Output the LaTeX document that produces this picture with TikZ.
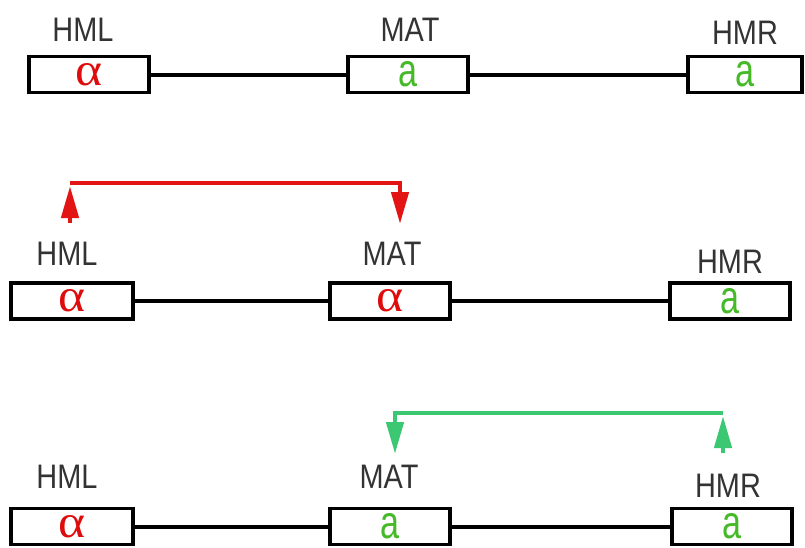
\documentclass[tikz,border=0pt]{standalone}
\usepackage{fontspec}
\setmainfont[FakeStretch=0.85]{Liberation Sans}
\newfontfamily\grkfont{Liberation Serif}
\usetikzlibrary{arrows.meta}
\definecolor{alred}{RGB}{222,12,12}
\definecolor{agreen}{RGB}{70,185,40}
\definecolor{arrred}{RGB}{226,20,20}
\definecolor{arrgreen}{RGB}{60,200,115}
\tikzset{
  genebox/.style={draw=black, line width=3.5pt, fill=white, minimum width=120pt, minimum height=36pt, inner sep=0pt},
  genelbl/.style={font=\fontsize{34}{36}\selectfont, text=black!80, inner sep=0pt},
  link/.style={line width=4pt, black},
  redpath/.style={line width=4.5pt, arrred},
  greenpath/.style={line width=4.5pt, arrgreen},
  headtip/.style={-{Triangle[width=17pt,length=32pt]}}
}
\newcommand{\alsym}{\textcolor{alred}{\resizebox{27pt}{22pt}{\grkfont α}}}
\newcommand{\asym}{\textcolor{agreen}{\resizebox{19pt}{25pt}{a}}}
\begin{document}
\begin{tikzpicture}[x=1pt,y=-1pt]
\useasboundingbox[fill=white] (0,0) rectangle (805,547);
% Row 1
\node[genelbl] (lhml1) at (83,30) {HML};
\node[genelbl] (lmat1) at (410,30) {MAT};
\node[genelbl] (lhmr1) at (745,33) {HMR};
\node[genebox] (hml1) at (89,74.5) {\alsym};
\node[genebox] (mat1) at (408,74.5) {\asym};
\node[genebox, minimum width=114pt] (hmr1) at (745,74.5) {\asym};
\draw[link] (hml1) -- (mat1);
\draw[link] (mat1) -- (hmr1);
% Row 2
\node[genelbl] (lhml2) at (67,254) {HML};
\node[genelbl] (lmat2) at (392,254) {MAT};
\node[genelbl] (lhmr2) at (730,262) {HMR};
\node[genebox, minimum width=122pt] (hml2) at (72,301) {\alsym};
\node[genebox] (mat2) at (390,301) {\alsym};
\node[genebox] (hmr2) at (730,301) {\asym};
\draw[link] (hml2) -- (mat2);
\draw[link] (mat2) -- (hmr2);
\coordinate (r1) at (70,223);
\coordinate (r1tip) at (70,186);
\coordinate (r2) at (70,183);
\coordinate (r3) at (400,183);
\coordinate (r4) at (400,224);
\draw[redpath, headtip] (r1) -- (r1tip);
\draw[redpath, headtip] (r2) -- (r3) -- (r4);
% Row 3
\node[genelbl] (lhml3) at (67,477) {HML};
\node[genelbl] (lmat3) at (389,477) {MAT};
\node[genelbl] (lhmr3) at (728,486) {HMR};
\node[genebox, minimum width=122pt] (hml3) at (72,526.5) {\alsym};
\node[genebox] (mat3) at (390,526.5) {\asym};
\node[genebox] (hmr3) at (732,526.5) {\asym};
\draw[link] (hml3) -- (mat3);
\draw[link] (mat3) -- (hmr3);
\coordinate (g1) at (723,453);
\coordinate (g1tip) at (723,416);
\coordinate (g2) at (723,413);
\coordinate (g3) at (395,413);
\coordinate (g4) at (395,454);
\draw[greenpath, headtip] (g1) -- (g1tip);
\draw[greenpath, headtip] (g2) -- (g3) -- (g4);
\end{tikzpicture}
\end{document}
